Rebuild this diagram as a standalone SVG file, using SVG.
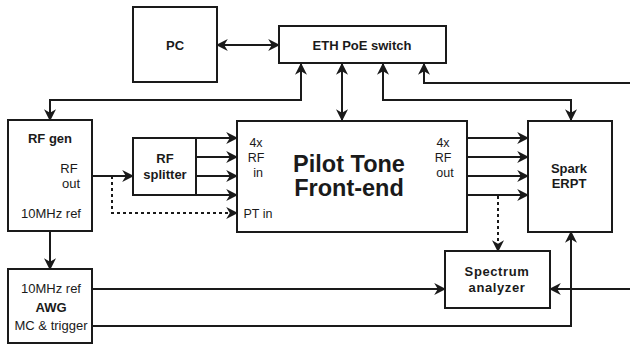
<svg xmlns="http://www.w3.org/2000/svg" width="630" height="345" viewBox="0 0 630 345">
  <style>
    .box { fill: #fff; stroke: #1a1a1a; stroke-width: 2; }
    .wire { fill: none; stroke: #1a1a1a; stroke-width: 2; }
    .dash { fill: none; stroke: #1a1a1a; stroke-width: 2; stroke-dasharray: 3 3; }
    text { font-family: "Liberation Sans", Arial, sans-serif; fill: #1a1a1a; text-anchor: middle; }
    .b { font-weight: bold; font-size: 13px; }
    .r { font-size: 13px; }
    .s { font-size: 12.5px; }
    .big { font-weight: bold; font-size: 23.5px; }
  </style>
  <defs>
    <marker id="arr" viewBox="0 0 10 10" refX="9" refY="5" markerWidth="12" markerHeight="12" markerUnits="userSpaceOnUse" orient="auto-start-reverse">
      <path d="M0,0 L10,5 L0,10 L3,5 z" fill="#1a1a1a"/>
    </marker>
  </defs>

  <g id="connectors">
    <line class="wire" x1="217" y1="45" x2="279" y2="45" marker-start="url(#arr)" marker-end="url(#arr)"/>
    <path class="wire" d="M301,64 V100 H50 V120" marker-start="url(#arr)" marker-end="url(#arr)"/>
    <line class="wire" x1="342" y1="64" x2="342" y2="120" marker-start="url(#arr)" marker-end="url(#arr)"/>
    <path class="wire" d="M383,64 V100 H571 V120" marker-start="url(#arr)" marker-end="url(#arr)"/>
    <path class="wire" d="M630,83 H424 V64" marker-end="url(#arr)"/>
    <line class="wire" x1="92" y1="176" x2="133" y2="176" marker-end="url(#arr)"/>
    <path class="dash" d="M112,176 V213 H237" marker-end="url(#arr)"/>
    <line class="wire" x1="196" y1="138" x2="237" y2="138" marker-end="url(#arr)"/>
    <line class="wire" x1="196" y1="157" x2="237" y2="157" marker-end="url(#arr)"/>
    <line class="wire" x1="196" y1="176" x2="237" y2="176" marker-end="url(#arr)"/>
    <line class="wire" x1="196" y1="195" x2="237" y2="195" marker-end="url(#arr)"/>
    <line class="wire" x1="467" y1="138" x2="528" y2="138" marker-end="url(#arr)"/>
    <line class="wire" x1="467" y1="157" x2="528" y2="157" marker-end="url(#arr)"/>
    <line class="wire" x1="467" y1="176" x2="528" y2="176" marker-end="url(#arr)"/>
    <line class="wire" x1="467" y1="195" x2="528" y2="195" marker-end="url(#arr)"/>
    <line class="dash" x1="498" y1="196" x2="498" y2="251" marker-end="url(#arr)"/>
    <line class="wire" x1="50" y1="231" x2="50" y2="269" marker-end="url(#arr)"/>
    <line class="wire" x1="92" y1="289" x2="445" y2="289" marker-end="url(#arr)"/>
    <path class="wire" d="M92,326 H571 V232" marker-end="url(#arr)"/>
    <line class="wire" x1="630" y1="289" x2="550" y2="289" marker-end="url(#arr)"/>
  </g>

  <g id="pc">
    <rect class="box" x="133" y="7" width="84" height="75"/>
    <text class="b" x="175" y="50">PC</text>
  </g>

  <g id="eth-switch">
    <rect class="box" x="279" y="26" width="167" height="37"/>
    <text class="b" x="362" y="50">ETH PoE switch</text>
  </g>

  <g id="rf-gen">
    <rect class="box" x="8" y="120" width="84" height="111"/>
    <text class="b" x="50" y="143">RF gen</text>
    <text class="r" x="69" y="173">RF</text>
    <text class="r" x="71" y="188">out</text>
    <text class="r" x="51" y="218">10MHz ref</text>
  </g>

  <g id="rf-splitter">
    <rect class="box" x="133" y="138" width="63" height="57"/>
    <text class="b" x="165" y="163">RF</text>
    <text class="b" x="165" y="179">splitter</text>
  </g>

  <g id="pilot-tone">
    <rect class="box" x="237" y="121" width="230" height="111"/>
    <text class="s" x="256" y="147">4x</text>
    <text class="s" x="256" y="162">RF</text>
    <text class="s" x="258" y="177">in</text>
    <text class="s" x="258" y="218">PT in</text>
    <text class="big" x="349" y="172">Pilot Tone</text>
    <text class="big" x="349" y="196">Front-end</text>
    <text class="s" x="443" y="147">4x</text>
    <text class="s" x="443" y="162">RF</text>
    <text class="s" x="445" y="177">out</text>
  </g>

  <g id="spark-erpt">
    <rect class="box" x="528" y="121" width="84" height="111"/>
    <text class="b" x="569" y="173">Spark</text>
    <text class="b" x="569" y="188">ERPT</text>
  </g>

  <g id="spectrum-analyzer">
    <rect class="box" x="445" y="251" width="105" height="57"/>
    <text class="b" x="497" y="276" letter-spacing="0.6">Spectrum</text>
    <text class="b" x="497" y="292" letter-spacing="0.6">analyzer</text>
  </g>

  <g id="awg">
    <rect class="box" x="8" y="269" width="84" height="74"/>
    <text class="r" x="51" y="293">10MHz ref</text>
    <text class="b" x="51" y="312">AWG</text>
    <text class="r" x="51" y="330">MC &amp; trigger</text>
  </g>
</svg>
